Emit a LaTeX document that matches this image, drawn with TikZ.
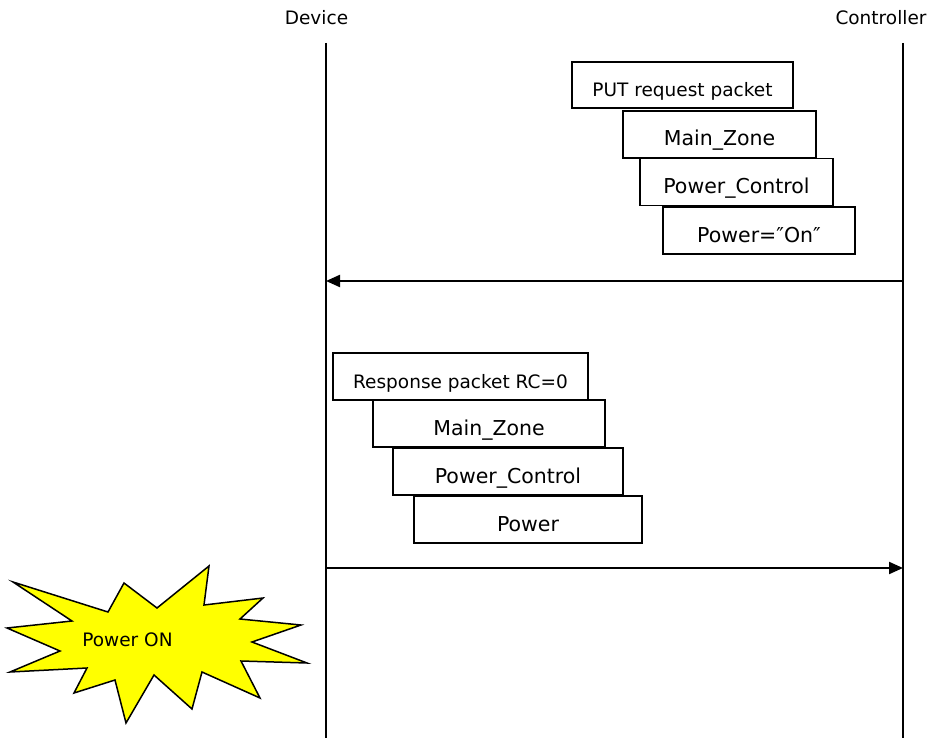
\documentclass[tikz,border=0pt]{standalone}
\usepackage{fontspec}
\setmainfont{DejaVu Sans}
\usetikzlibrary{arrows.meta}

\definecolor{burstyellow}{RGB}{255,255,0}

\tikzset{
  pkt/.style={draw,fill=white,line width=1.8pt,inner sep=0pt,minimum height=47pt,text height=23pt,text depth=0pt},
  smalltext/.style={font=\fontsize{18.5}{22}\selectfont},
  bigtext/.style={font=\fontsize{20.5}{24}\selectfont},
  lifeline/.style={line width=1.5pt},
  msg/.style={line width=2.1pt,-{Triangle[length=14pt,width=12pt]}}
}

\begin{document}
\begin{tikzpicture}[x=1pt,y=-1pt]
\useasboundingbox (0,0) rectangle (931,738);

\node[smalltext] (dev) at (316.5,18) {Device};
\node[smalltext] (ctl) at (881,18) {Controller};
\coordinate (devtop) at (326,43);
\coordinate (devbot) at (326,738);
\coordinate (ctltop) at (903,43);
\coordinate (ctlbot) at (903,738);
\draw[lifeline] (devtop) -- (devbot);
\draw[lifeline] (ctltop) -- (ctlbot);

% PUT request from the controller
\node[pkt,smalltext,minimum width=221pt,minimum height=46pt] (req) at (682.5,85) {PUT request packet};
\node[pkt,bigtext,minimum width=193pt] (reqzone) at (719.5,134.5) {Main\_Zone};
\node[pkt,bigtext,minimum width=193pt] (reqctl) at (736.5,182) {Power\_Control};
\node[pkt,bigtext,minimum width=192pt] (reqpwr) at (759,230.5) {Power=\char"2033On\char"2033};
\coordinate (ctlreq) at (903,281);
\coordinate (devreq) at (326,281);
\draw[msg] (ctlreq) -- (devreq);

% response from the device
\node[pkt,smalltext,minimum width=255pt] (resp) at (460.5,376.5) {Response packet RC=0};
\node[pkt,bigtext,minimum width=232pt] (respzone) at (489,423.5) {Main\_Zone};
\node[pkt,bigtext,minimum width=230pt] (respctl) at (508,471.5) {Power\_Control};
\node[pkt,bigtext,minimum width=228pt] (resppwr) at (528,519.5) {Power};
\coordinate (devresp) at (326,568);
\coordinate (ctlresp) at (903,568);
\draw[msg] (devresp) -- (ctlresp);

% power on burst
\draw[line width=1.5pt,fill=burstyellow,line join=miter]
  (13,582) -- (108,612) -- (124,583) -- (157,608) -- (209,566) -- (204,605)
  -- (263,598) -- (240,619) -- (301,625) -- (252,642) -- (307,663) -- (241,661)
  -- (260,698) -- (202,672) -- (192,709) -- (154,675) -- (126,723) -- (115,680)
  -- (74,693) -- (87,668) -- (10,672) -- (60,651) -- (7,628) -- (72,621) -- cycle;
\node[smalltext] (burst) at (127.5,640) {Power ON};
\end{tikzpicture}
\end{document}
